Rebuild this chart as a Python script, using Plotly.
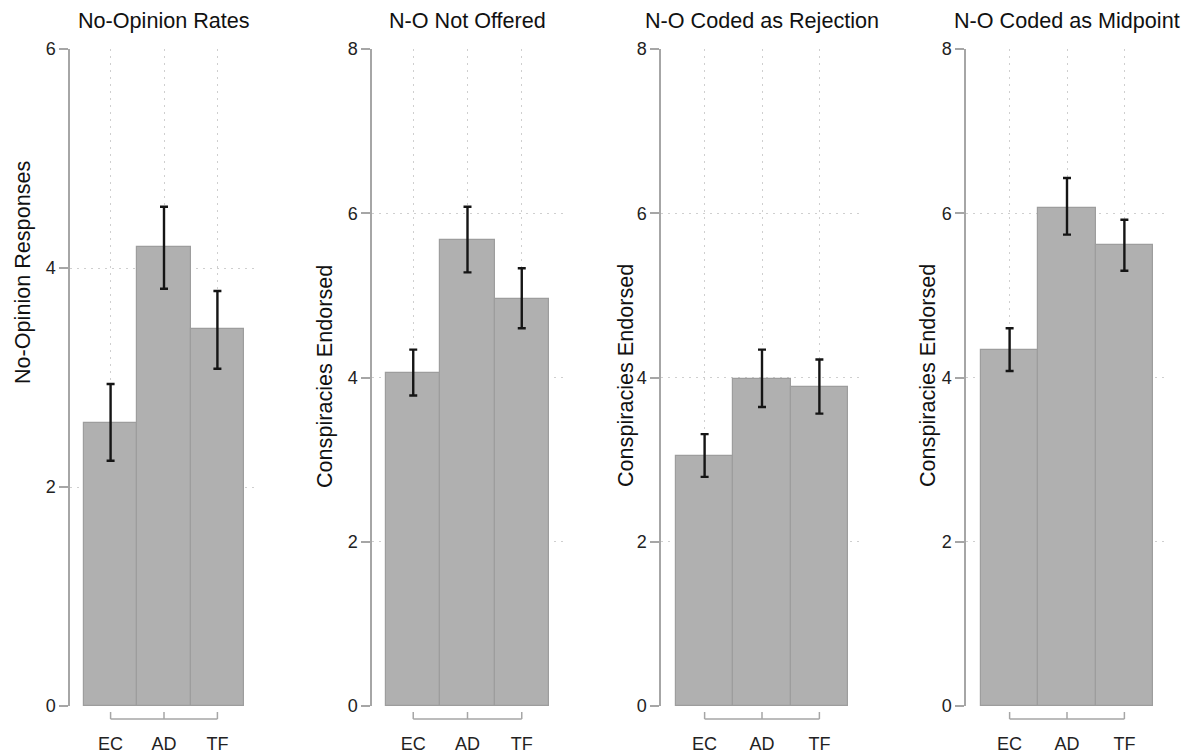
import plotly.graph_objects as go

# ---------------- data ----------------
categories = ["EC", "AD", "TF"]
panel_titles = ["No-Opinion Rates", "N-O Not Offered", "N-O Coded as Rejection", "N-O Coded as Midpoint"]
y_titles = ["No-Opinion Responses", "Conspiracies Endorsed", "Conspiracies Endorsed", "Conspiracies Endorsed"]

means_rates = [2.58, 4.19, 3.44]
lower_rates = [2.24, 3.81, 3.08]
upper_rates = [2.94, 4.56, 3.79]

means_not_offered = [4.06, 5.68, 4.96]
lower_not_offered = [3.78, 5.28, 4.60]
upper_not_offered = [4.34, 6.08, 5.33]

means_rejection = [3.04, 3.98, 3.88]
lower_rejection = [2.79, 3.64, 3.56]
upper_rejection = [3.31, 4.34, 4.22]

means_midpoint = [4.34, 6.07, 5.61]
lower_midpoint = [4.08, 5.74, 5.30]
upper_midpoint = [4.60, 6.43, 5.92]

y_maxes = [6, 8, 8, 8]
y_tick_values = [[0, 2, 4, 6], [0, 2, 4, 6, 8], [0, 2, 4, 6, 8], [0, 2, 4, 6, 8]]

# ---------------- layout constants ----------------
W, H = 1190, 755
FONT = "Liberation Sans, Arial, sans-serif"
domains_px = [(70, 258), (372, 563), (661, 863), (966, 1168)]
ylabel_pos_px = [(22, 273), (325, 376), (626, 376), (928, 376)]
Y_BOTTOM_PX, Y_TOP_PX = 706, 49
y_dom = [1 - Y_BOTTOM_PX / H, 1 - Y_TOP_PX / H]
bracket_y = 1 - 719 / H
bracket_tick_top = 1 - 712 / H
AXIS_GRAY = "#a6a6a6"
GRID_GRAY = "#cfcfcf"

series = [
    (means_rates, lower_rates, upper_rates),
    (means_not_offered, lower_not_offered, upper_not_offered),
    (means_rejection, lower_rejection, upper_rejection),
    (means_midpoint, lower_midpoint, upper_midpoint),
]

fig = go.Figure()
annotations = []
shapes = []
layout = {}

for i, (m, lo, hi) in enumerate(series):
    n = i + 1
    xa = "x" if n == 1 else f"x{n}"
    ya = "y" if n == 1 else f"y{n}"
    fig.add_trace(go.Bar(
        x=categories, y=m, xaxis=xa, yaxis=ya, width=1,
        marker=dict(color="#b0b0b0", line=dict(color="#9d9d9d", width=1.2)),
        error_y=dict(type="data", symmetric=False,
                     array=[h - v for h, v in zip(hi, m)],
                     arrayminus=[v - l for v, l in zip(m, lo)],
                     color="#151515", thickness=2.4, width=4),
        showlegend=False, hoverinfo="skip",
    ))
    d0, d1 = domains_px[i]
    layout["xaxis" if n == 1 else f"xaxis{n}"] = dict(
        domain=[d0 / W, d1 / W], anchor=ya, automargin=False,
        type="category", range=[-0.76, len(categories) - 1 + 0.76],
        showline=False, ticks="outside", ticklen=21, tickcolor="rgba(0,0,0,0)",
        showgrid=True, gridcolor=GRID_GRAY, griddash="2px,5px", gridwidth=1,
        tickfont=dict(family=FONT, size=18, color="#222222"), zeroline=False,
        fixedrange=True,
    )
    layout["yaxis" if n == 1 else f"yaxis{n}"] = dict(
        domain=y_dom, anchor=xa, range=[0, y_maxes[i]], automargin=False,
        tickvals=y_tick_values[i], showline=True, linecolor=AXIS_GRAY, linewidth=1.5,
        ticks="outside", ticklen=9, tickwidth=1.5, tickcolor=AXIS_GRAY,
        showgrid=True, gridcolor=GRID_GRAY, griddash="2px,5px", gridwidth=1,
        tickfont=dict(family=FONT, size=18, color="#222222"), zeroline=False,
        fixedrange=True,
    )
    # x-axis bracket spanning first to last category, with upward ticks
    shapes.append(dict(type="line", xref=xa, yref="paper",
                       x0=0, x1=len(categories) - 1, y0=bracket_y, y1=bracket_y,
                       line=dict(color=AXIS_GRAY, width=1.5)))
    for k in range(len(categories)):
        shapes.append(dict(type="line", xref=xa, yref="paper",
                           x0=k, x1=k, y0=bracket_y, y1=bracket_tick_top,
                           line=dict(color=AXIS_GRAY, width=1.5)))
    # panel title centred over the middle category
    annotations.append(dict(text=panel_titles[i], xref=xa, yref="paper",
                            x=(len(categories) - 1) / 2, y=1 - 20 / H,
                            xanchor="center", yanchor="middle", showarrow=False,
                            font=dict(family=FONT, size=21.6, color="#111111")))
    lx, ly = ylabel_pos_px[i]
    annotations.append(dict(text=y_titles[i], xref="paper", yref="paper",
                            x=lx / W, y=1 - ly / H, textangle=-90,
                            xanchor="center", yanchor="middle", showarrow=False,
                            font=dict(family=FONT, size=21.6, color="#111111")))

fig.update_layout(
    width=W, height=H, margin=dict(l=0, r=0, t=0, b=0, pad=0, autoexpand=False),
    paper_bgcolor="white", plot_bgcolor="white",
    bargap=0, annotations=annotations, shapes=shapes, hovermode=False,
    **layout,
)

fig.write_html("out.html", config={"displayModeBar": False},
               post_script="document.body.style.margin='0';document.body.style.padding='0';")
